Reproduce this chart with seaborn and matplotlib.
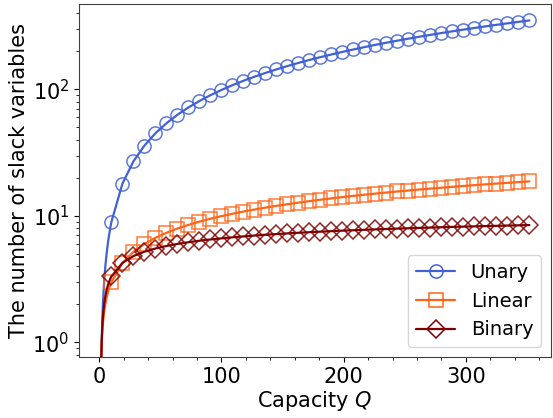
import numpy as np
import matplotlib
matplotlib.use("Agg")
import matplotlib.pyplot as plt
import seaborn as sns
from matplotlib.lines import Line2D
from matplotlib.ticker import MultipleLocator

sns.set_style("ticks", {"axes.edgecolor": "0.25", "text.color": "black",
                        "xtick.color": "black", "ytick.color": "black",
                        "axes.labelcolor": "black"})
plt.rcParams['font.family'] = ['DejaVu Sans']
plt.rcParams['xtick.major.size'] = 3.5
plt.rcParams['ytick.major.size'] = 3.5
plt.rcParams['xtick.minor.size'] = 2
plt.rcParams['ytick.minor.size'] = 2

# capacities where markers are drawn
q_marks = [10, 19, 28, 37, 46, 55, 64, 73, 82, 91, 100, 109, 118, 127, 136, 145,
           154, 163, 172, 181, 190, 199, 208, 217, 226, 235, 244, 253, 262, 271,
           280, 289, 298, 307, 316, 325, 334, 343, 352]
unary_marks = [9, 18, 27, 36, 45, 54, 63, 72, 81, 90, 99, 108, 117, 126, 135, 144,
               153, 162, 171, 180, 189, 198, 207, 216, 225, 234, 243, 252, 261, 270,
               279, 288, 297, 306, 315, 324, 333, 342, 351]
linear_marks = [3.0, 4.24, 5.2, 6.0, 6.71, 7.35, 7.94, 8.49, 9.0, 9.49, 9.95, 10.39,
                10.82, 11.22, 11.62, 12.0, 12.37, 12.73, 13.08, 13.42, 13.75, 14.07,
                14.39, 14.7, 15.0, 15.3, 15.59, 15.87, 16.16, 16.43, 16.7, 16.97,
                17.23, 17.49, 17.75, 18.0, 18.25, 18.49, 18.73]
binary_marks = [3.32, 4.25, 4.81, 5.21, 5.52, 5.78, 6.0, 6.19, 6.36, 6.51, 6.64, 6.77,
                6.88, 6.99, 7.09, 7.18, 7.27, 7.35, 7.43, 7.5, 7.57, 7.64, 7.7, 7.76,
                7.82, 7.88, 7.93, 7.98, 8.03, 8.08, 8.13, 8.18, 8.22, 8.26, 8.3, 8.34,
                8.38, 8.42, 8.46]

# extra points for the start of the curves (small Q)
q_start = [1.2, 1.4, 1.7, 2, 2.5, 3, 4, 5, 6, 7, 8, 9]
unary_start = [0.2, 0.4, 0.7, 1.0, 1.5, 2.0, 3.0, 4.0, 5.0, 6.0, 7.0, 8.0]
linear_start = [0.45, 0.63, 0.84, 1.0, 1.22, 1.41, 1.73, 2.0, 2.24, 2.45, 2.65, 2.83]
binary_start = [0.26, 0.49, 0.77, 1.0, 1.32, 1.58, 2.0, 2.32, 2.58, 2.81, 3.0, 3.17]

series = [
    ("Unary", unary_start, unary_marks, "#4161d4", "o"),
    ("Linear", linear_start, linear_marks, "#ff6417", "s"),
    ("Binary", binary_start, binary_marks, "#7f0000", "D"),
]

fig, ax = plt.subplots(figsize=(5.53, 4.18), dpi=100)
fig.subplots_adjust(left=0.143, right=0.996, top=0.99, bottom=0.146)

for name, y0, ym, color, marker in series:
    sns.lineplot(x=q_start + q_marks, y=y0 + ym, ax=ax, color=color, lw=1.6,
                 sort=False, estimator=None)
    sns.lineplot(x=q_marks, y=ym, ax=ax, color=color, lw=0, marker=marker,
                 markersize=9.5, markerfacecolor="none", markeredgecolor=color,
                 markeredgewidth=1.1, alpha=0.85, estimator=None)

ax.set_yscale("log")
ax.set_xlim(-16.5, 369.5)
ax.set_ylim(0.766, 472)
ax.xaxis.set_minor_locator(MultipleLocator(20))
ax.tick_params(axis="both", labelsize=15)
ax.set_xlabel("Capacity $Q$", fontsize=15, labelpad=2)
ax.set_ylabel("The number of slack variables", fontsize=15, labelpad=2)

handles = [Line2D([], [], color=c, lw=1.6, marker=m, markersize=9.5,
                  markerfacecolor="none", markeredgecolor=c, markeredgewidth=1.1)
           for _, _, _, c, m in series]
ax.legend(handles, [s[0] for s in series], loc="lower right", fontsize=14,
          frameon=True, borderpad=0.4, handlelength=2.0)

sns.despine(top=False, right=False)
fig.savefig("out.png", dpi=100)
